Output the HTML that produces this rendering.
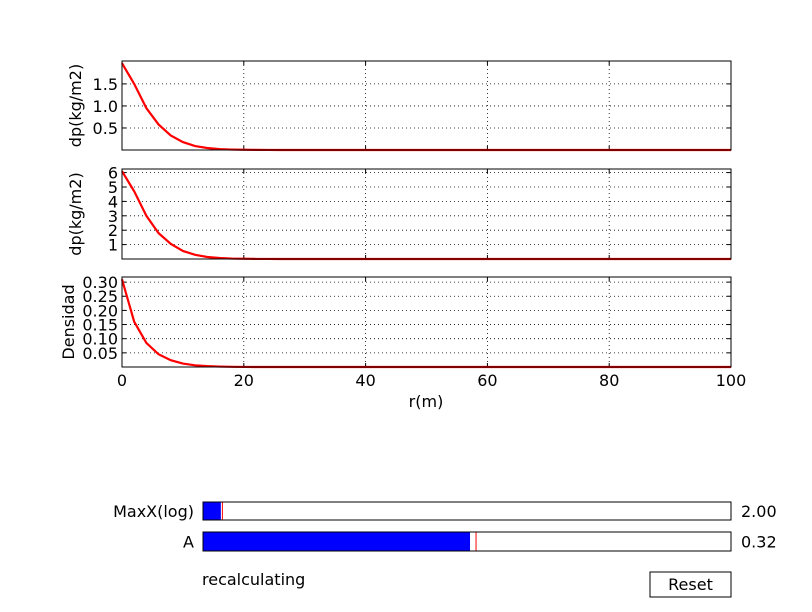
<!DOCTYPE html>
<html><head><meta charset="utf-8"><style>
body{margin:0;background:#fff;}
svg{display:block;font-family:"DejaVu Sans","Liberation Sans",sans-serif;}
</style></head><body>
<svg id="c" width="812" height="612" viewBox="0 0 812 612">
<rect width="812" height="612" fill="#fff"/>
</svg>
<script>
const rValues=[0,2,4,6,8,10,12,14,16,18,20,22,24,26,28,30,40,50,60,70,80,90,100];
const dp1Values=[1.97,1.5,0.95,0.58,0.33,0.18,0.09,0.045,0.02,0.01,0.005,0.002,0.001,0,0,0,0,0,0,0,0,0,0];
const dp2Values=[6.1,4.7,3.0,1.8,1.05,0.56,0.29,0.14,0.07,0.03,0.015,0.006,0.003,0,0,0,0,0,0,0,0,0,0];
const densValues=[0.31,0.16,0.085,0.045,0.024,0.012,0.006,0.003,0.0015,0.0007,0.0003,0,0,0,0,0,0,0,0,0,0,0,0];
const xTicks=[0,20,40,60,80,100];
const y1Ticks=[0.5,1.0,1.5];
const y2Ticks=[1,2,3,4,5,6];
const y3Ticks=[0.05,0.10,0.15,0.20,0.25,0.30];
const maxXValue=2.00, maxXMin=1.65, maxXMax=12;
const aValue=0.32, aMin=0.01, aMax=0.623;

const svg=document.getElementById('c');
const NS='http://www.w3.org/2000/svg';
const FS=16;
function mk(t,a,p){const e=document.createElementNS(NS,t);for(const k in a)e.setAttribute(k,a[k]);(p||svg).appendChild(e);return e;}
const X0=122,X1=731;
const sx=v=>X0+(v-0)/100*(X1-X0);
const panels=[
 {top:61,bot:150,ymax:2.02,ticks:y1Ticks,data:dp1Values,label:'dp(kg/m2)',fmt:v=>v.toFixed(1),name:'dp-panel-1'},
 {top:169,bot:259,ymax:6.25,ticks:y2Ticks,data:dp2Values,label:'dp(kg/m2)',fmt:v=>String(v),name:'dp-panel-2'},
 {top:277,bot:367,ymax:0.318,ticks:y3Ticks,data:densValues,label:'Densidad',fmt:v=>v.toFixed(2),name:'density-panel'}
];
panels.forEach((p,pi)=>{
 const g=mk('g',{});
 
 
 const sy=v=>p.bot-v/p.ymax*(p.bot-p.top);
 mk('rect',{x:X0,y:p.top,width:X1-X0,height:p.bot-p.top,fill:'#fff',stroke:'none'},g);
 xTicks.forEach(t=>{const x=sx(t);
  mk('line',{x1:x,x2:x,y1:p.top,y2:p.bot,stroke:'#000','stroke-width':0.8,'stroke-dasharray':'1,3'},g);
  mk('line',{x1:x,x2:x,y1:p.bot,y2:p.bot-4,stroke:'#000'},g);
  mk('line',{x1:x,x2:x,y1:p.top,y2:p.top+4,stroke:'#000'},g);
  if(pi==2){const tx=mk('text',{x:x,y:p.bot+19,'text-anchor':'middle','font-size':FS},g);tx.textContent=t;
   }
 });
 p.ticks.forEach(t=>{const y=sy(t);
  mk('line',{x1:X0,x2:X1,y1:y,y2:y,stroke:'#000','stroke-width':0.8,'stroke-dasharray':'1,3'},g);
  mk('line',{x1:X0,x2:X0+4,y1:y,y2:y,stroke:'#000'},g);
  mk('line',{x1:X1,x2:X1-4,y1:y,y2:y,stroke:'#000'},g);
  const tx=mk('text',{x:X0-4,y:y+6,'text-anchor':'end','font-size':FS},g);tx.textContent=p.fmt(t);
  
 });
 const pts=rValues.map((r,i)=>sx(r)+','+sy(p.data[i])).join(' ');
 const ln=mk('polyline',{points:pts,fill:'none',stroke:'#f00','stroke-width':2.2},g);
 
 mk('rect',{x:X0,y:p.top,width:X1-X0,height:p.bot-p.top,fill:'none',stroke:'#000','stroke-width':1},g);
 const yl=mk('text',{x:0,y:0,'text-anchor':'middle','font-size':FS,transform:`translate(${pi==2?74:81},${(p.top+p.bot)/2}) rotate(-90)`},g);
 yl.textContent=p.label;
});
const xl=mk('text',{x:426,y:407,'text-anchor':'middle','font-size':FS});xl.textContent='r(m)';


function slider(name,label,y,h,val,min,max,init,txt){
 const g=mk('g',{});
 
 const L=203,R=731,w=R-L;
 mk('rect',{x:L,y:y,width:w,height:h,fill:'#fff'},g);
 mk('rect',{x:L,y:y,width:(val-min)/(max-min)*w,height:h,fill:'#00f'},g);
 const ix=L+(init-min)/(max-min)*w;
 mk('line',{x1:ix,x2:ix,y1:y,y2:y+h,stroke:'#f00','stroke-width':1},g);
 mk('rect',{x:L,y:y,width:w,height:h,fill:'none',stroke:'#000'},g);
 const t=mk('text',{x:L-9,y:y+h/2+6,'text-anchor':'end','font-size':FS},g);t.textContent=label;
 const v=mk('text',{x:741,y:y+h/2+6,'font-size':FS},g);v.textContent=txt;
}
slider('maxx-slider','MaxX(log)',502,18,maxXValue,maxXMin,maxXMax,maxXValue+0.03,maxXValue.toFixed(2));
slider('a-slider','A',532,19,aValue,aMin,aMax,aValue+0.007,aValue.toFixed(2));
const st=mk('text',{x:202,y:585,'font-size':FS});st.textContent='recalculating';

const b=mk('g',{});
mk('rect',{x:650,y:572,width:81,height:25,fill:'#fff',stroke:'#000'},b);
const bt=mk('text',{x:690.5,y:590,'text-anchor':'middle','font-size':FS},b);bt.textContent='Reset';
</script>
</body></html>
